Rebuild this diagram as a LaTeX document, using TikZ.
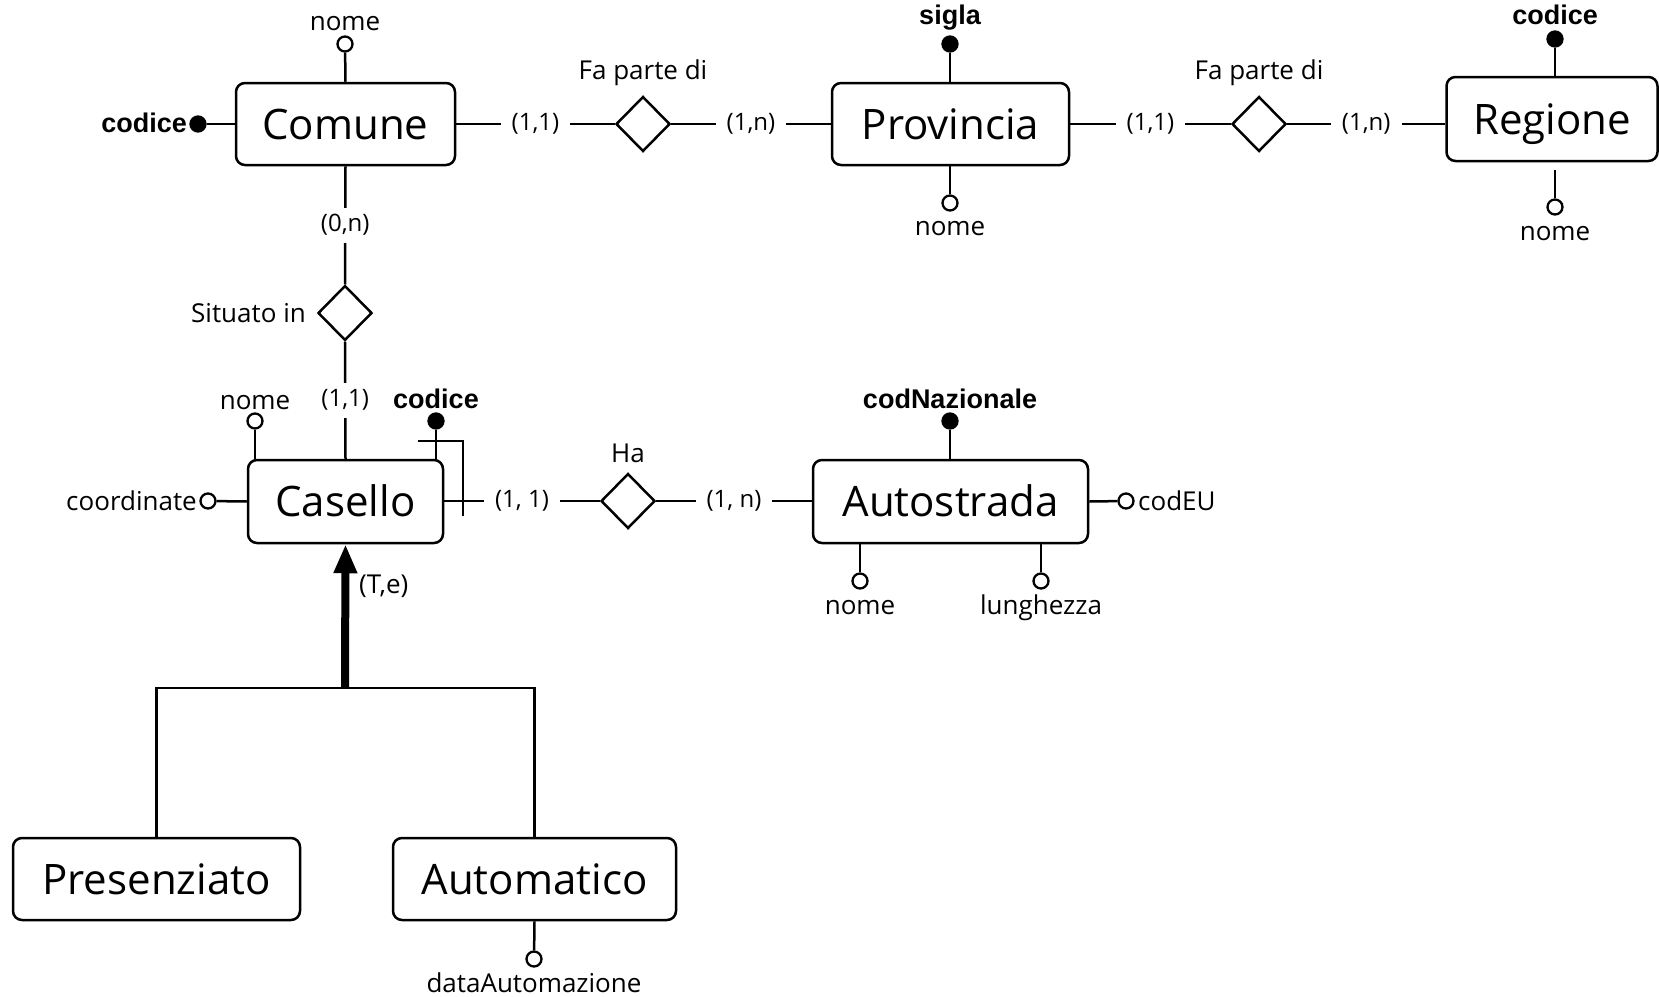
\documentclass[tikz,border=0pt]{standalone}
\usepackage{fontspec}
\setmainfont{Open Sans}
\newfontfamily\keyfont{Liberation Sans}
\usetikzlibrary{shapes.geometric,arrows.meta}
\tikzset{
  ln/.style={line width=2.5pt},
  ent/.style={draw, rectangle, rounded corners=9pt, line width=2.5pt, inner sep=0pt, text height=30pt, text depth=0pt, font=\fontsize{42}{50}\selectfont},
  rel/.style={draw, diamond, line width=2.5pt, minimum width=54pt, minimum height=55pt, inner sep=0pt, fill=white},
  att/.style={draw, circle, line width=2.3pt, fill=white, minimum size=15pt, inner sep=0pt},
  katt/.style={att, fill=black},
  txt/.style={inner sep=0pt, font=\fontsize{26}{30}\selectfont, text height=18pt, text depth=5pt},
  lbl/.style={txt, yshift=-3pt},
  klbl/.style={inner sep=0pt, yshift=-2pt, font=\keyfont\bfseries\fontsize{27}{32}\selectfont, text height=19pt, text depth=6pt},
  hcard/.style={txt, font=\fontsize{24}{28}\selectfont, fill=white, inner xsep=11pt, inner ysep=0pt},
  vcard/.style={txt, font=\fontsize{24}{28}\selectfont, fill=white, inner xsep=0pt, inner ysep=6pt},
  isa/.style={line width=8pt, -{Triangle[length=29pt,width=22pt]}}
}
\begin{document}
\begin{tikzpicture}[x=1pt,y=-1pt]
\useasboundingbox (0,0) rectangle (1659,996);
% entities
\node[ent, minimum width=219pt, minimum height=82pt] (com) at (345.5,124) {Comune};
\node[ent, minimum width=237pt, minimum height=82pt] (prov) at (950.5,124) {Provincia};
\node[ent, minimum width=211pt, minimum height=84pt] (reg) at (1552,119) {Regione};
\node[ent, minimum width=195pt, minimum height=83pt] (cas) at (345.5,501.5) {Casello};
\node[ent, minimum width=275pt, minimum height=83pt] (aut) at (950.5,501.5) {Autostrada};
\node[ent, minimum width=287pt, minimum height=82pt] (pres) at (156.5,879) {Presenziato};
\node[ent, minimum width=283pt, minimum height=82pt] (auto) at (534.5,879) {Automatico};
% relationships
\node[rel] (r1) at (643,124) {};
\node[rel] (r2) at (1259,124) {};
\node[rel] (r3) at (345,313) {};
\node[rel] (r4) at (628,501) {};
\node[lbl] (r1l) at (643,70) {Fa parte di};
\node[lbl] (r2l) at (1259,70) {Fa parte di};
\node[lbl, anchor=east] (r3l) at (306,313) {Situato in};
\node[lbl] (r4l) at (628,453) {Ha};
% connectors with cardinalities
\draw[ln] (com.east |- r1) -- node[hcard] {(1,1)} (r1.west);
\draw[ln] (r1.east) -- node[hcard] {(1,n)} (prov.west |- r1);
\draw[ln] (prov.east |- r2) -- node[hcard] {(1,1)} (r2.west);
\draw[ln] (r2.east) -- node[hcard] {(1,n)} (reg.west |- r2);
\draw[ln] (com.south) -- node[vcard] {(0,n)} (r3.north);
\draw[ln] (r3.south) -- node[vcard] {(1,1)} (cas.north);
\draw[ln] (cas.east |- r4) -- node[hcard] {(1, 1)} (r4.west);
\draw[ln] (r4.east) -- node[hcard] {(1, n)} (aut.west |- r4);
% Comune attributes
\node[att] (comN) at (345,44) {};
\draw[ln] (comN) -- (com.north);
\node[lbl] (comNl) at (345,21) {nome};
\node[katt] (comK) at (198,124) {};
\draw[ln] (comK) -- (com.west);
\node[klbl, anchor=east] (comKl) at (187,124) {codice};
% Provincia attributes
\node[katt] (provK) at (950,44) {};
\draw[ln] (provK) -- (provK |- prov.north);
\node[klbl] (provKl) at (950,16) {sigla};
\node[att] (provN) at (950,203) {};
\draw[ln] (provN) -- (provN |- prov.south);
\node[lbl] (provNl) at (950,226) {nome};
% Regione attributes
\node[katt] (regK) at (1555,39) {};
\draw[ln] (regK) -- (regK |- reg.north);
\node[klbl] (regKl) at (1555,16) {codice};
\node[att] (regN) at (1555,207) {};
\coordinate (regNs) at (1555,170);
\draw[ln] (regN) -- (regNs);
\node[lbl] (regNl) at (1555,231) {nome};
% Casello attributes
\node[att] (casN) at (255,421) {};
\draw[ln] (casN) -- (casN |- cas.north);
\node[lbl] (casNl) at (255,400) {nome};
\node[katt] (casK) at (436,421) {};
\draw[ln] (casK) -- (casK |- cas.north);
\node[klbl] (casKl) at (436,400) {codice};
\node[att] (casC) at (208,501) {};
\draw[ln] (casC) -- (cas.west);
\node[lbl, anchor=east] (casCl) at (197,501) {coordinate};
% composite identifier
\draw[ln] (418,441) -- (463,441) -- (463,516);
% Autostrada attributes
\node[katt] (autK) at (950,421) {};
\draw[ln] (autK) -- (autK |- aut.north);
\node[klbl] (autKl) at (950,400) {codNazionale};
\node[att] (autE) at (1126,501) {};
\draw[ln] (autE) -- (aut.east);
\node[lbl, anchor=west] (autEl) at (1138,501) {codEU};
\node[att] (autN) at (860,581) {};
\draw[ln] (autN) -- (autN |- aut.south);
\node[lbl] (autNl) at (860,605) {nome};
\node[att] (autL) at (1041,581) {};
\draw[ln] (autL) -- (autL |- aut.south);
\node[lbl] (autLl) at (1041,605) {lunghezza};
% Automatico attribute
\node[att] (autoD) at (534,959) {};
\draw[ln] (autoD) -- (auto.south);
\node[lbl] (autoDl) at (534,983) {dataAutomazione};
% generalization
\coordinate (gen) at (345,688);
\draw[ln] (pres.north) -- (pres.north |- gen) -- (auto.north |- gen) -- (auto.north);
\draw[isa] (gen) -- (cas.south);
\node[lbl, anchor=west] (isal) at (359,584) {(T,e)};
\end{tikzpicture}
\end{document}
